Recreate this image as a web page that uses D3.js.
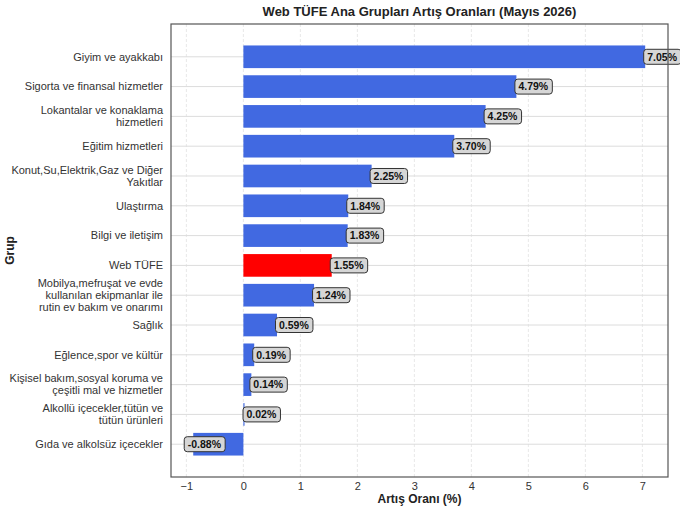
<!DOCTYPE html>
<html>
<head>
<meta charset="utf-8">
<script src="https://cdn.jsdelivr.net/npm/d3@7"></script>
<style>
  body { margin: 0; background: #fff; }
  svg text { font-family: "Liberation Sans", Arial, sans-serif; }
</style>
</head>
<body>
<svg width="680" height="510"></svg>
<script>
// chart data
const groups = [
  'Giyim ve ayakkabı',
  'Sigorta ve finansal hizmetler',
  'Lokantalar ve konaklama\nhizmetleri',
  'Eğitim hizmetleri',
  'Konut,Su,Elektrik,Gaz ve Diğer\nYakıtlar',
  'Ulaştırma',
  'Bilgi ve iletişim',
  'Web TÜFE',
  'Mobilya,mefruşat ve evde\nkullanılan ekipmanlar ile\nrutin ev bakım ve onarımı',
  'Sağlık',
  'Eğlence,spor ve kültür',
  'Kişisel bakım,sosyal koruma ve\nçeşitli mal ve hizmetler',
  'Alkollü içecekler,tütün ve\ntütün ürünleri',
  'Gıda ve alkolsüz içecekler'
];
const rates = [7.05, 4.79, 4.25, 3.70, 2.25, 1.84, 1.83, 1.55, 1.24, 0.59, 0.19, 0.14, 0.02, -0.88];
const xTicks = [-1, 0, 1, 2, 3, 4, 5, 6, 7];
const highlight = 'Web TÜFE';

const data = groups.map((g, i) => ({ group: g, value: rates[i] }));

const margin = { top: 24, right: 12, bottom: 33, left: 171 };
const width = 680, height = 510;
const innerW = width - margin.left - margin.right;
const innerH = height - margin.top - margin.bottom;

const svg = d3.select('svg');
const g = svg.append('g')
    .attr('transform', `translate(${margin.left},${margin.top})`);

const x = d3.scaleLinear()
    .domain([-1.27, 7.45])
    .range([0, innerW]);

const y = d3.scalePoint()
    .domain(groups)
    .range([0, innerH])
    .padding(1.1);

const barH = y.step() * 0.76;

// vertical grid (dashed)
g.selectAll('.vgrid')
    .data(xTicks)
    .enter().append('line')
    .attr('class', 'vgrid')
    .attr('x1', d => x(d)).attr('x2', d => x(d))
    .attr('y1', 0).attr('y2', innerH)
    .attr('stroke', '#e2e2e2')
    .attr('stroke-dasharray', '3,2')
    .attr('stroke-width', 0.8);

// horizontal grid
g.selectAll('.hgrid')
    .data(groups)
    .enter().append('line')
    .attr('class', 'hgrid')
    .attr('x1', 0).attr('x2', innerW)
    .attr('y1', d => y(d)).attr('y2', d => y(d))
    .attr('stroke', '#dcdcdc')
    .attr('stroke-width', 1);

// bars
g.selectAll('.bar')
    .data(data)
    .enter().append('rect')
    .attr('class', 'bar')
    .attr('x', d => x(Math.min(0, d.value)))
    .attr('width', d => Math.abs(x(d.value) - x(0)))
    .attr('y', d => y(d.group) - barH / 2)
    .attr('height', barH)
    .attr('fill', d => d.group === highlight ? '#ff0000' : '#4169e1');

// value labels
const labels = g.selectAll('.lbl')
    .data(data)
    .enter().append('g')
    .attr('class', 'lbl')
    .attr('transform', d => {
        const bx = d.value >= 0 ? x(d.value) - 1.5 : x(d.value) - 9;
        return `translate(${bx},${y(d.group)})`;
    });

labels.append('text')
    .attr('x', 3.5)
    .attr('dy', '0.36em')
    .style('font-size', '10.5px')
    .style('font-weight', 'bold')
    .attr('fill', '#111')
    .text(d => d.value.toFixed(2) + '%');

labels.each(function() {
    const grp = d3.select(this);
    const bb = grp.select('text').node().getBBox();
    grp.insert('rect', 'text')
        .attr('x', 0)
        .attr('y', -7.5)
        .attr('width', bb.width + 7)
        .attr('height', 15)
        .attr('rx', 3)
        .attr('fill', '#d6d6d6')
        .attr('stroke', '#333')
        .attr('stroke-width', 1);
});

// frame
g.append('rect')
    .attr('width', innerW)
    .attr('height', innerH)
    .attr('fill', 'none')
    .attr('stroke', '#555')
    .attr('stroke-width', 1.2);

// x axis
const xAxis = g.append('g')
    .attr('transform', `translate(0,${innerH})`)
    .call(d3.axisBottom(x).tickValues(xTicks).tickSize(0).tickPadding(5).tickFormat(d => d < 0 ? '\u2212' + Math.abs(d) : d));
xAxis.select('.domain').remove();
xAxis.selectAll('text')
    .style('font-size', '11px')
    .attr('fill', '#333');

// y axis labels (multi-line)
const yLab = g.selectAll('.ylab')
    .data(groups)
    .enter().append('text')
    .attr('class', 'ylab')
    .attr('x', -8)
    .attr('text-anchor', 'end')
    .style('font-size', '11px')
    .attr('fill', '#333');

yLab.each(function(d) {
    const lines = d.split('\n');
    const lh = 12;
    const t = d3.select(this);
    lines.forEach((ln, i) => {
        t.append('tspan')
            .attr('x', -8)
            .attr('y', y(d) + (i - (lines.length - 1) / 2) * lh)
            .attr('dy', '0.35em')
            .text(ln);
    });
});

// title and axis titles
svg.append('text')
    .attr('x', margin.left + innerW / 2)
    .attr('y', 16)
    .attr('text-anchor', 'middle')
    .style('font-size', '13px')
    .style('font-weight', 'bold')
    .attr('fill', '#222')
    .text('Web TÜFE Ana Grupları Artış Oranları (Mayıs 2026)');

svg.append('text')
    .attr('x', margin.left + innerW / 2)
    .attr('y', 503)
    .attr('text-anchor', 'middle')
    .style('font-size', '12px')
    .style('font-weight', 'bold')
    .attr('fill', '#222')
    .text('Artış Oranı (%)');

svg.append('text')
    .attr('transform', `translate(14,${margin.top + innerH / 2}) rotate(-90)`)
    .attr('text-anchor', 'middle')
    .style('font-size', '12px')
    .style('font-weight', 'bold')
    .attr('fill', '#222')
    .text('Grup');
</script>
</body>
</html>
